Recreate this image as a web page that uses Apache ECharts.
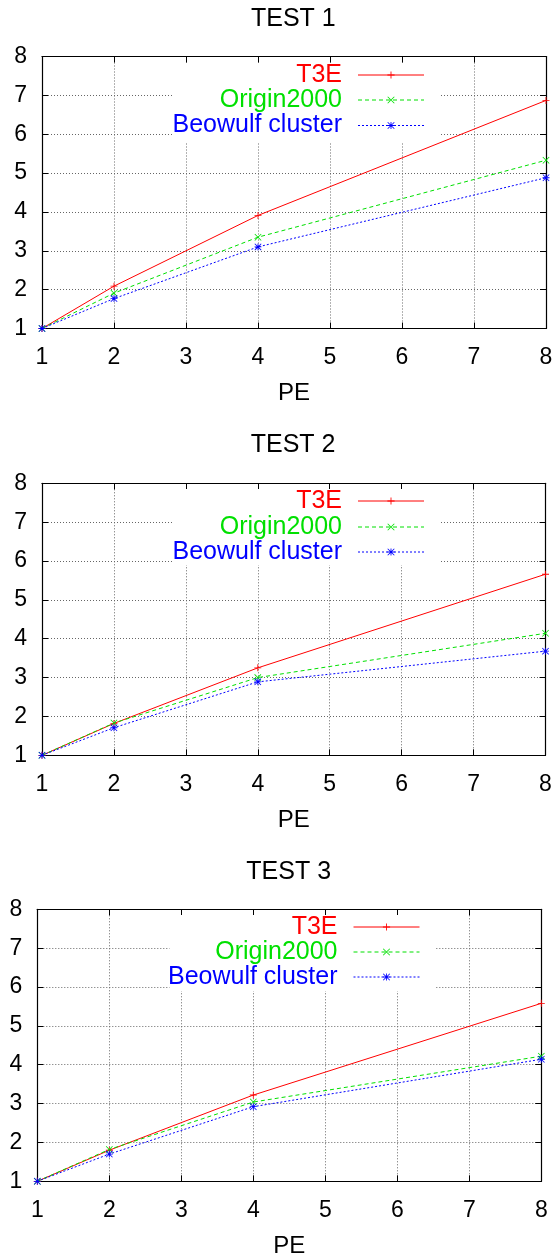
<!DOCTYPE html>
<html>
<head>
<meta charset="utf-8">
<script src="https://cdn.jsdelivr.net/npm/echarts@6/dist/echarts.min.js"></script>
<style>
  html, body { margin: 0; padding: 0; background: #fff; }
  #chart { width: 556px; height: 1260px; }
</style>
</head>
<body>
<div id="chart"></div>
<script>
var chart = echarts.init(document.getElementById('chart'));

// data
var peValues = [1, 2, 4, 8];
var seriesNames = ['T3E', 'Origin2000', 'Beowulf cluster'];
var titles = ['TEST 1', 'TEST 2', 'TEST 3'];

var t3e1 = [1, 2.09, 3.91, 6.87];
var origin1 = [1, 1.91, 3.35, 5.33];
var beowulf1 = [1, 1.77, 3.10, 4.88];

var t3e2 = [1, 1.82, 3.25, 5.66];
var origin2 = [1, 1.83, 3.00, 4.14];
var beowulf2 = [1, 1.71, 2.89, 3.68];

var t3e3 = [1, 1.80, 3.22, 5.58];
var origin3 = [1, 1.82, 3.04, 4.22];
var beowulf3 = [1, 1.70, 2.92, 4.14];

var panelData = [
    [t3e1, origin1, beowulf1],
    [t3e2, origin2, beowulf2],
    [t3e3, origin3, beowulf3]
];

// layout of each panel (pixels)
var panels = [
    { left: 42, right: 10, top: 56.5, titleTop: 7, legendTop: [62.5, 87.5, 113], legendRight: 131.5, key: [174, 63, 266, 80] },
    { left: 42, right: 10.5, top: 483.3, titleTop: 433, legendTop: [488.5, 514.5, 539.5], legendRight: 131.5, key: [174, 489, 266, 76] },
    { left: 37.3, right: 14.7, top: 909.3, titleTop: 860, legendTop: [914.5, 939.5, 964.5], legendRight: 136, key: [169.5, 915, 266, 76] }
];
var plotHeight = 272;

var colors = ['#ff0000', '#00e000', '#0000ff'];
var lineTypes = ['solid', [4, 3], [2, 2]];
var symbols = [
    'path://M0,4.4H10V5.6H0ZM4.4,0H5.6V10H4.4Z',
    'path://M0,0.8L0.8,0L10,9.2L9.2,10ZM9.2,0L10,0.8L0.8,10L0,9.2Z',
    'path://M0,4.4H10V5.6H0ZM4.4,0H5.6V10H4.4ZM0,0.8L0.8,0L10,9.2L9.2,10ZM9.2,0L10,0.8L0.8,10L0,9.2Z'
];
var font = 'Liberation Sans, Arial, sans-serif';

var option = {
    backgroundColor: '#fff',
    animation: false,
    title: [], grid: [], xAxis: [], yAxis: [], legend: [], series: [], graphic: []
};

panels.forEach(function (p, i) {
    option.title.push({
        text: titles[i],
        left: p.left + (556 - p.left - p.right) / 2 - 43,
        top: p.titleTop,
        padding: 0,
        textStyle: { fontFamily: font, fontSize: 25, fontWeight: 'normal', color: '#000' }
    });
    option.grid.push({ left: p.left, right: p.right, top: p.top, height: plotHeight });

    var tickStyle = { show: true, inside: true, length: 6, lineStyle: { color: '#000' } };
    var lineStyle = { show: true, onZero: false, lineStyle: { color: '#000', width: 1.2 } };
    var gridLine = { show: true, lineStyle: { color: '#666', type: [1, 2], width: 1 } };

    option.xAxis.push({
        type: 'value', gridIndex: i, min: 1, max: 8, interval: 1,
        name: 'PE', nameLocation: 'middle', nameGap: 53,
        nameTextStyle: { fontFamily: font, fontSize: 24, color: '#000' },
        axisLine: lineStyle, axisTick: tickStyle, splitLine: gridLine,
        axisLabel: { fontFamily: font, fontSize: 23, color: '#000', margin: 18 }
    });
    option.xAxis.push({
        type: 'value', gridIndex: i, position: 'top', min: 1, max: 8, interval: 1,
        axisLine: lineStyle, axisTick: tickStyle, splitLine: { show: false }, axisLabel: { show: false }
    });
    option.yAxis.push({
        type: 'value', gridIndex: i, min: 1, max: 8, interval: 1,
        axisLine: lineStyle, axisTick: tickStyle, splitLine: gridLine,
        axisLabel: { fontFamily: font, fontSize: 23, color: '#000', margin: 15 }
    });
    option.yAxis.push({
        type: 'value', gridIndex: i, position: 'right', min: 1, max: 8, interval: 1,
        axisLine: lineStyle, axisTick: tickStyle, splitLine: { show: false }, axisLabel: { show: false }
    });

    // white key box hiding grid lines behind the legend
    option.graphic.push({
        type: 'rect', z: 1, silent: true,
        shape: { x: p.key[0], y: p.key[1], width: p.key[2], height: p.key[3] },
        style: { fill: '#fff' }
    });

    seriesNames.forEach(function (name, k) {
        var sname = name + (i ? ' '.repeat(i) : '');
        option.series.push({
            name: sname,
            type: 'line',
            xAxisIndex: i * 2,
            yAxisIndex: i * 2,
            data: peValues.map(function (pe, j) { return [pe, panelData[i][k][j]]; }),
            symbol: symbols[k],
            symbolSize: 7,
            showSymbol: true,
            itemStyle: { color: colors[k] },
            lineStyle: { color: colors[k], width: 1, type: lineTypes[k] },
            z: 3
        });
        option.legend.push({
            data: [{ name: sname, textStyle: { color: colors[k] } }],
            formatter: function () { return name; },
            orient: 'horizontal',
            align: 'right',
            right: p.legendRight,
            top: p.legendTop[k],
            padding: 0,
            itemWidth: 66,
            itemHeight: 9,
            selectedMode: false,
            itemStyle: { color: colors[k] },
            lineStyle: { width: 1, color: colors[k], type: lineTypes[k] },
            textStyle: { fontFamily: font, fontSize: 25, lineHeight: 25, color: colors[k], padding: [0, 11, 0, 0] }
        });
    });
});

chart.setOption(option);
</script>
</body>
</html>
